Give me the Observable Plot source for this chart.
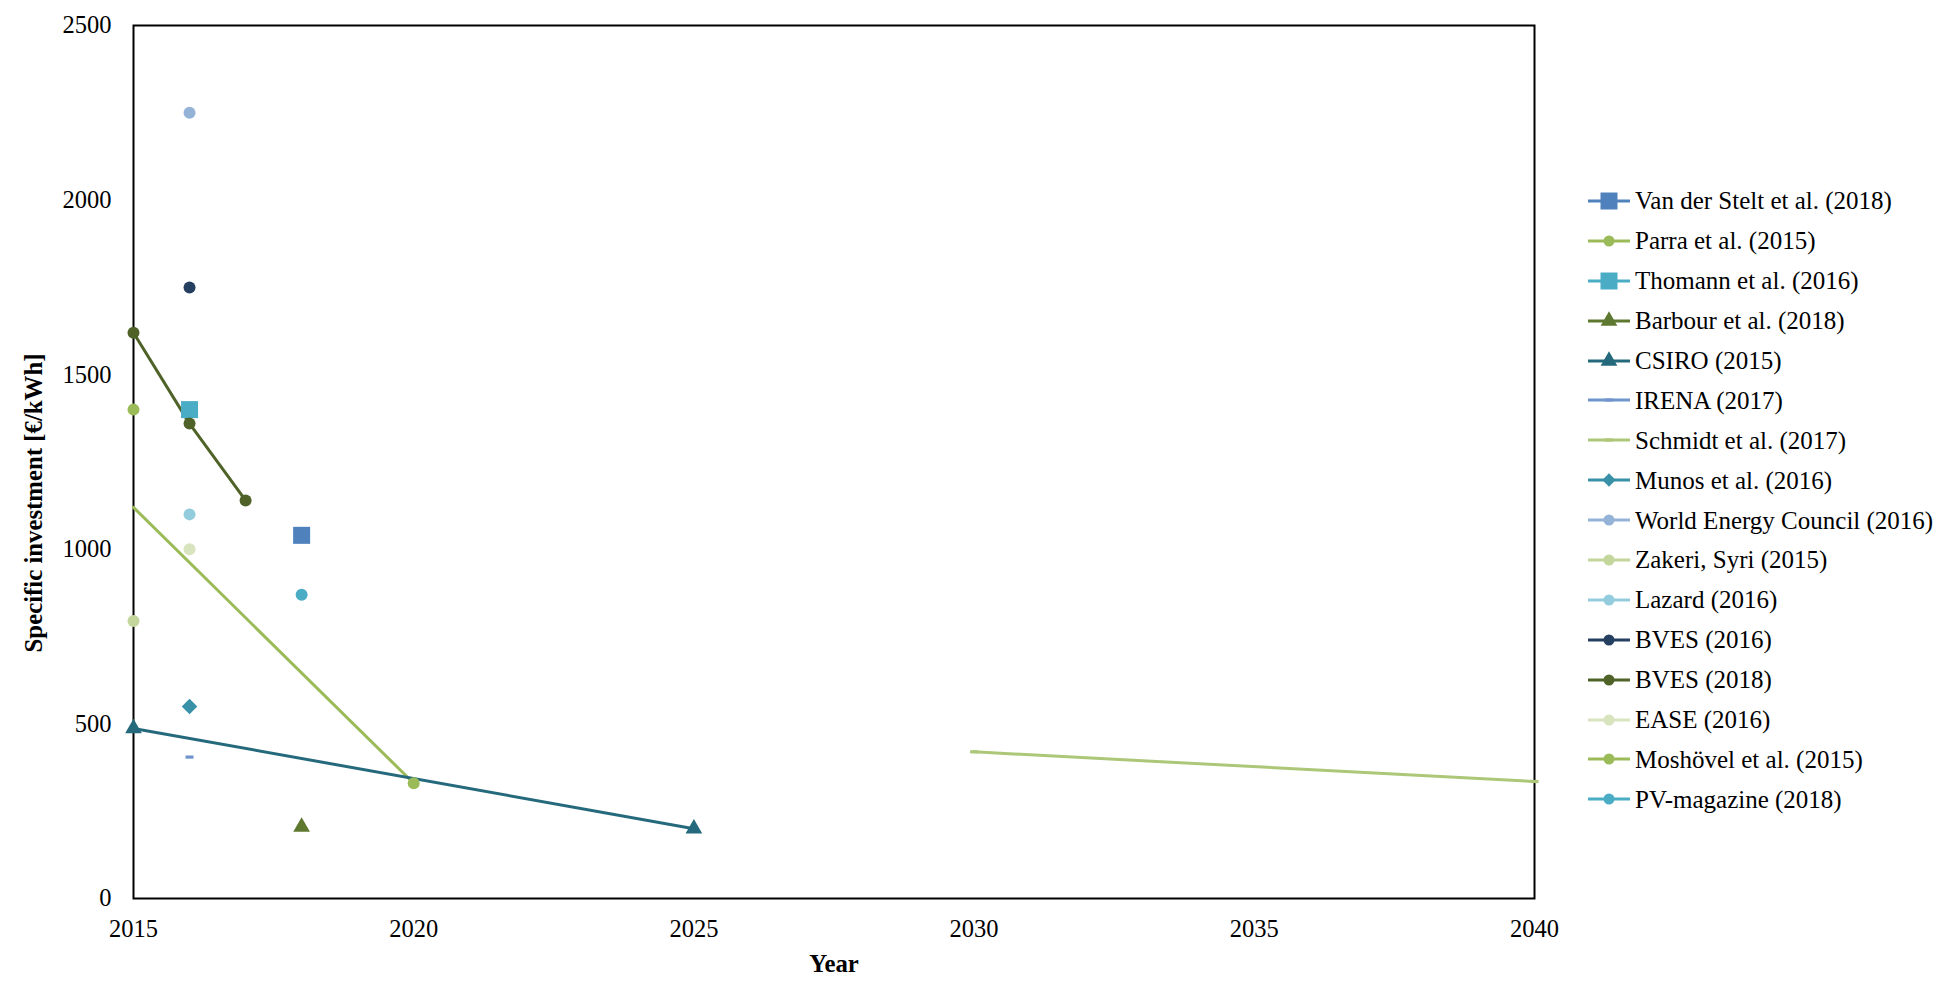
<!DOCTYPE html>
<html>
<head>
<meta charset="utf-8">
<script src="https://cdn.jsdelivr.net/npm/d3@7"></script>
<script src="https://cdn.jsdelivr.net/npm/@observablehq/plot@0.6"></script>
<style>
  body { margin: 0; background: #fff; }
  #wrap { position: relative; width: 1956px; height: 1003px; font-family: "Liberation Serif", "Times New Roman", serif; }
  #legend { position: absolute; left: 1588px; top: 181px; }
  .row { display: flex; align-items: center; height: 39.9px; line-height: 1; font-size: 25px; color: #000; white-space: nowrap; }
  .row svg { display: block; }
</style>
</head>
<body>
<div id="wrap"><div id="legend"></div></div>
<script>
// ---- Series (legend order) ----
const seriesNames = [
  "Van der Stelt et al. (2018)", "Parra et al. (2015)", "Thomann et al. (2016)",
  "Barbour et al. (2018)", "CSIRO (2015)", "IRENA (2017)", "Schmidt et al. (2017)",
  "Munos et al. (2016)", "World Energy Council (2016)", "Zakeri, Syri (2015)",
  "Lazard (2016)", "BVES (2016)", "BVES (2018)", "EASE (2016)",
  "Moshövel et al. (2015)", "PV-magazine (2018)"
];
const seriesColors = [
  "#4F81BD", "#9BBB59", "#4BACC6",
  "#5F7830", "#256A7C", "#6F95CC", "#ABC777",
  "#3891A7", "#95B3D7", "#C3D69B",
  "#93CDDD", "#243F60", "#4F6228", "#D7E4BD",
  "#9BBB59", "#4BACC6"
];
const seriesShapes = [
  "square", "circle", "square",
  "triangle", "triangle", "dash", "dash",
  "diamond", "circle", "circle",
  "circle", "circle", "circle", "circle",
  "circle", "circle"
];

// ---- Observations ----
const obsSeries = [
  "Van der Stelt et al. (2018)",
  "Parra et al. (2015)", "Parra et al. (2015)",
  "Thomann et al. (2016)",
  "Barbour et al. (2018)",
  "CSIRO (2015)", "CSIRO (2015)",
  "IRENA (2017)",
  "Schmidt et al. (2017)", "Schmidt et al. (2017)",
  "Munos et al. (2016)",
  "World Energy Council (2016)",
  "Zakeri, Syri (2015)",
  "Lazard (2016)",
  "BVES (2016)",
  "BVES (2018)", "BVES (2018)", "BVES (2018)",
  "EASE (2016)",
  "Moshövel et al. (2015)",
  "PV-magazine (2018)"
];
const obsYear = [
  2018,
  2015, 2020,
  2016,
  2018,
  2015, 2025,
  2016,
  2030, 2040,
  2016,
  2016,
  2015,
  2016,
  2016,
  2015, 2016, 2017,
  2016,
  2015,
  2018
];
const obsValue = [
  1040,
  1120, 330,
  1400,
  205,
  487, 200,
  405,
  420, 335,
  550,
  2250,
  795,
  1100,
  1750,
  1620, 1360, 1140,
  1000,
  1400,
  870
];
// points that are part of a line but carry no visible marker
const unmarkedSeries = ["Parra et al. (2015)"];
const unmarkedYear = [2015];

const xTicks = [2015, 2020, 2025, 2030, 2035, 2040];
const yTicks = [0, 500, 1000, 1500, 2000, 2500];

// ---- build table ----
const data = obsSeries.map((s, i) => ({series: s, year: obsYear[i], value: obsValue[i]}));
const isUnmarked = d => unmarkedSeries.some((s, i) => s === d.series && unmarkedYear[i] === d.year);

const dashSymbol = { draw(ctx) { ctx.rect(-4, -1.6, 8, 3.2); } };
const shapeSpec = {
  circle: {symbol: "circle", r: 6},
  square: {symbol: "square", r: 9.6},
  triangle: {symbol: "triangle", r: 6.2},
  diamond: {symbol: "diamond2", r: 7},
  dash: {symbol: dashSymbol, r: 4}
};

const colorOf = s => seriesColors[seriesNames.indexOf(s)];

const dotMarks = seriesNames.map((name, i) => {
  const spec = shapeSpec[seriesShapes[i]];
  return Plot.dot(data.filter(d => d.series === name && !isUnmarked(d)), {
    x: "year", y: "value", symbol: spec.symbol, r: spec.r, fill: seriesColors[i], stroke: "none"
  });
});

const lineMarks = seriesNames
  .filter(name => data.filter(d => d.series === name).length > 1)
  .map(name => Plot.line(data.filter(d => d.series === name), {
    x: "year", y: "value", stroke: colorOf(name), strokeWidth: 3
  }));

const chart = Plot.plot({
  width: 1956,
  height: 1003,
  marginLeft: 133,
  marginRight: 422,
  marginTop: 25,
  marginBottom: 105,
  style: { fontFamily: "'Liberation Serif', 'Times New Roman', serif", fontSize: "24.5px", color: "#000", background: "#fff" },
  x: { domain: [2015, 2040], label: null },
  y: { domain: [0, 2500], label: null },
  marks: [
    Plot.axisX(xTicks, { tickSize: 0, tickPadding: 21, tickFormat: d => String(d), label: null }),
    Plot.axisY(yTicks, { tickSize: 0, tickPadding: 22, tickFormat: d => String(d), label: null }),
    Plot.frame({ stroke: "#000", strokeWidth: 2 }),
    ...lineMarks,
    ...dotMarks,
    Plot.text(["Specific investment [€/kWh]"], {
      text: d => d, frameAnchor: "left", textAnchor: "middle", lineAnchor: "middle",
      rotate: -90, dx: -99, dy: 41, fontWeight: "bold", fontSize: 24.8
    }),
    Plot.text(["Year"], {
      text: d => d, frameAnchor: "bottom", textAnchor: "middle", lineAnchor: "middle",
      dy: 66, fontWeight: "bold", fontSize: 24.8
    })
  ]
});
document.getElementById("wrap").prepend(chart);

// ---- legend ----
const legend = d3.select("#legend");
const legendSymbol = {
  circle: d3.symbol(d3.symbolCircle, Math.PI * 5.5 * 5.5),
  square: d3.symbol(d3.symbolSquare, 17 * 17),
  triangle: d3.symbol(d3.symbolTriangle, Math.PI * 6.2 * 6.2),
  diamond: d3.symbol(d3.symbolDiamond2, Math.PI * 6 * 6),
  dash: d3.symbol(dashSymbol, 16)
};
seriesNames.forEach((name, i) => {
  const row = legend.append("div").attr("class", "row");
  const svg = row.append("svg").attr("width", 47).attr("height", 39.9);
  svg.append("line").attr("x1", 0).attr("x2", 42).attr("y1", 20).attr("y2", 20)
    .attr("stroke", seriesColors[i]).attr("stroke-width", 3);
  svg.append("path").attr("d", legendSymbol[seriesShapes[i]]())
    .attr("transform", "translate(21,20)").attr("fill", seriesColors[i]);
  row.append("span").text(name);
});
</script>
</body>
</html>
